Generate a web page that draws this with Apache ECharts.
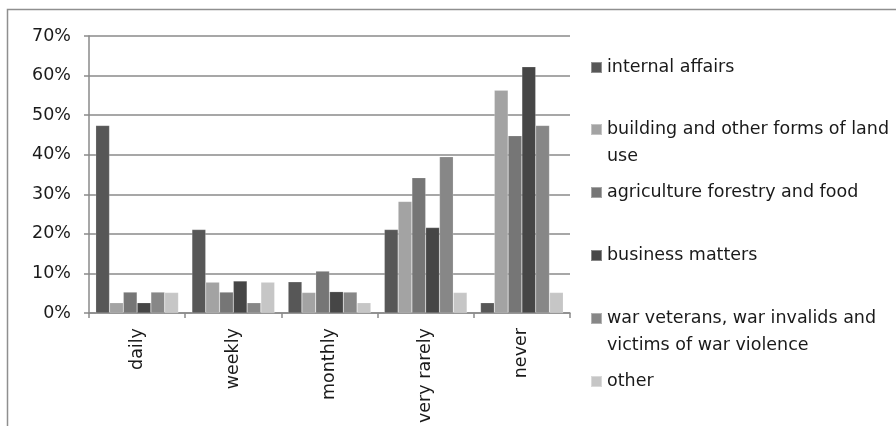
<!DOCTYPE html>
<html>
<head>
<meta charset="utf-8">
<script src="https://cdn.jsdelivr.net/npm/echarts@6/dist/echarts.min.js"></script>
<style>
html,body{margin:0;padding:0;background:#fff;}
#chart{width:896px;height:426px;}
</style>
</head>
<body>
<div id="chart"></div>
<script>
// ---- data ----
var categories = ['daily', 'weekly', 'monthly', 'very rarely', 'never'];
var seriesNames = [
  'internal affairs',
  'building and other forms of land use',
  'agriculture forestry and food',
  'business matters',
  'war veterans, war invalids and victims of war violence',
  'other'
];
var internalAffairs = [47.4, 21.1, 7.9, 21.1, 2.6];
var buildingLandUse = [2.6, 7.8, 5.2, 28.2, 56.3];
var agricultureForestryFood = [5.3, 5.3, 10.6, 34.2, 44.8];
var businessMatters = [2.6, 8.1, 5.4, 21.6, 62.2];
var warVeterans = [5.3, 2.6, 5.3, 39.5, 47.4];
var other = [5.2, 7.8, 2.6, 5.2, 5.2];
var yTicks = [0, 10, 20, 30, 40, 50, 60, 70];

var seriesValues = [internalAffairs, buildingLandUse, agricultureForestryFood, businessMatters, warVeterans, other];
var colors = ['#575757', '#a3a3a3', '#767676', '#464646', '#878787', '#c6c6c6'];
var legendLabels = {
  'building and other forms of land use': 'building and other forms of land\nuse',
  'war veterans, war invalids and victims of war violence': 'war veterans, war invalids and\nvictims of war violence'
};

var FONT = 'DejaVu Sans';
var FS = 17.5;
var LH = 27;
var ICON = 11;

var chart = echarts.init(document.getElementById('chart'), null, {renderer: 'canvas'});

var legendCenters = [67, 129, 192, 255, 318, 381];
var legends = seriesNames.map(function (name, i) {
  var twoLine = !!legendLabels[name];
  var iconH = twoLine ? ICON + LH : ICON;
  var icon = twoLine
    ? 'path://M0,0L' + ICON + ',0L' + ICON + ',' + ICON + 'L0,' + ICON + 'Z M0,' + iconH + 'L0.01,' + iconH + 'L0.01,' + (iconH + 0.01) + 'L0,' + (iconH + 0.01) + 'Z'
    : 'rect';
  return {
    orient: 'vertical',
    left: 590,
    top: Math.round(legendCenters[i] - ICON / 2 - (LH - ICON) / 2),
    padding: 0,
    itemWidth: ICON,
    itemHeight: iconH,
    itemGap: 0,
    icon: icon,
    selectedMode: false,
    data: [name],
    formatter: function (n) { return legendLabels[n] || n; },
    textStyle: {
      fontFamily: FONT,
      fontSize: FS,
      color: '#1a1a1a',
      lineHeight: LH
    }
  };
});

var series = seriesNames.map(function (name, i) {
  return {
    name: name,
    type: 'bar',
    data: seriesValues[i],
    barGap: '0%',
    barCategoryGap: '14%',
    itemStyle: {color: colors[i], borderColor: 'rgba(255,255,255,0.35)', borderWidth: 0.5},
    emphasis: {disabled: true}
  };
});

chart.setOption({
  animation: false,
  color: colors,
  textStyle: {fontFamily: FONT},
  graphic: [{
    type: 'rect',
    shape: {x: 7.5, y: 9.5, width: 1000, height: 1000},
    style: {fill: null, stroke: '#8f8f8f', lineWidth: 1.5},
    silent: true,
    z: -10
  }],
  legend: legends,
  grid: {left: 89, right: 326, top: 36, bottom: 110, containLabel: false},
  xAxis: {
    type: 'category',
    data: categories,
    axisLine: {show: true, lineStyle: {color: '#8a8a8a', width: 1.5}},
    axisTick: {show: true, length: 5, lineStyle: {color: '#8a8a8a', width: 1.5}},
    axisLabel: {rotate: 90, margin: 15, fontFamily: FONT, fontSize: FS, color: '#1a1a1a'}
  },
  yAxis: {
    type: 'value',
    min: 0,
    max: 70,
    interval: 10,
    axisLine: {show: true, lineStyle: {color: '#8a8a8a', width: 1.5}},
    axisTick: {show: true, length: 5, lineStyle: {color: '#8a8a8a', width: 1.5}},
    splitLine: {show: true, lineStyle: {color: '#8a8a8a', width: 1.5}},
    axisLabel: {
      margin: 18,
      fontFamily: FONT,
      fontSize: FS,
      color: '#1a1a1a',
      formatter: function (v) { return yTicks.indexOf(v) >= 0 ? v + '%' : ''; }
    }
  },
  series: series
});
</script>
</body>
</html>
